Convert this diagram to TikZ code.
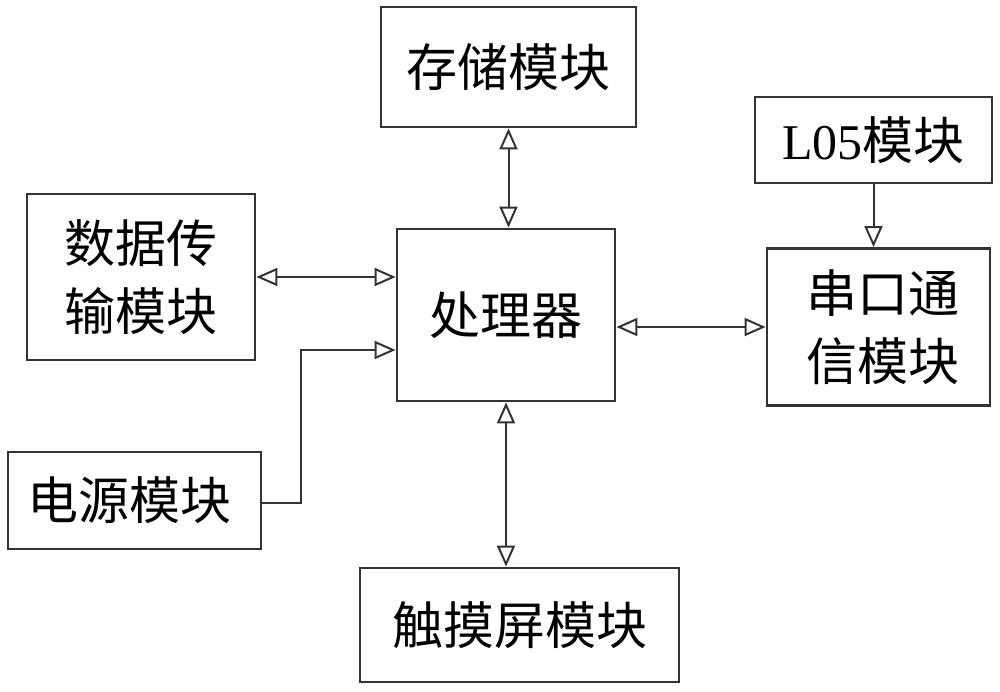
\documentclass[tikz,border=0pt]{standalone}
\usepackage{fontspec}
\newfontfamily\cjk{Noto Sans CJK SC}
\newfontfamily\lserif{Liberation Serif}
\usepackage{xcolor}
\usepackage{tikz}
\usetikzlibrary{calc}
\usetikzlibrary {arrows.meta}
\definecolor{C0}{HTML}{333333}
\begin{document}
\begin{tikzpicture}[x=1pt,y=-1pt]
\tikzstyle{blk}=[draw=C0,line width=2.8pt,shape=rectangle,inner sep=0pt,align=center,font=\cjk\fontsize{51}{68}\selectfont]
\tikzstyle{lnk}=[draw=C0,line width=2pt,{Triangle[open,length=21pt,width=18pt,line width=2pt]}-{Triangle[open,length=21pt,width=18pt,line width=2pt]}]
\tikzstyle{one}=[draw=C0,line width=2pt,-{Triangle[open,length=21pt,width=18pt,line width=2pt]}]
\useasboundingbox (0,0) rectangle (1000,691);

\node[blk,minimum width=255pt,minimum height=120pt](stor) at (508.5,67){存储模块};
\node[blk,minimum width=237pt,minimum height=86pt](lfive) at (873.5,140){{\lserif\fontsize{50}{60}\selectfont L05}模块};
\node[blk,minimum width=228pt,minimum height=166pt](data) at (141,277){数据传\\输模块};
\node[blk,minimum width=218pt,minimum height=172pt](cpu) at (506,315){处理器};
\node[blk,minimum width=223pt,minimum height=157pt](uart) at (878.5,327){\hspace*{8pt}串口通\\\hspace*{8pt}信模块};
\node[blk,minimum width=253pt,minimum height=97pt](pwr) at (134.5,500.5){\hspace*{-10pt}电源模块};
\node[blk,minimum width=319pt,minimum height=114pt](touch) at (519.5,625){触摸屏模块};
%
\draw[lnk] (stor.south) -- (stor.south |- cpu.north);
\draw[one] (lfive.south) -- (lfive.south |- uart.north);
\draw[lnk] (data.east) -- (data.east -| cpu.west);
\draw[lnk] (cpu.east |- uart.west) -- (uart.west);
\draw[lnk] (cpu.south) -- (cpu.south |- touch.north);
%
\coordinate (pin) at ($(cpu.west)+(0,35)$);
\draw[one] ($(pwr.east)+(0,2.5)$) -- ++(39,0) |- (pin);
\end{tikzpicture}
\end{document}
